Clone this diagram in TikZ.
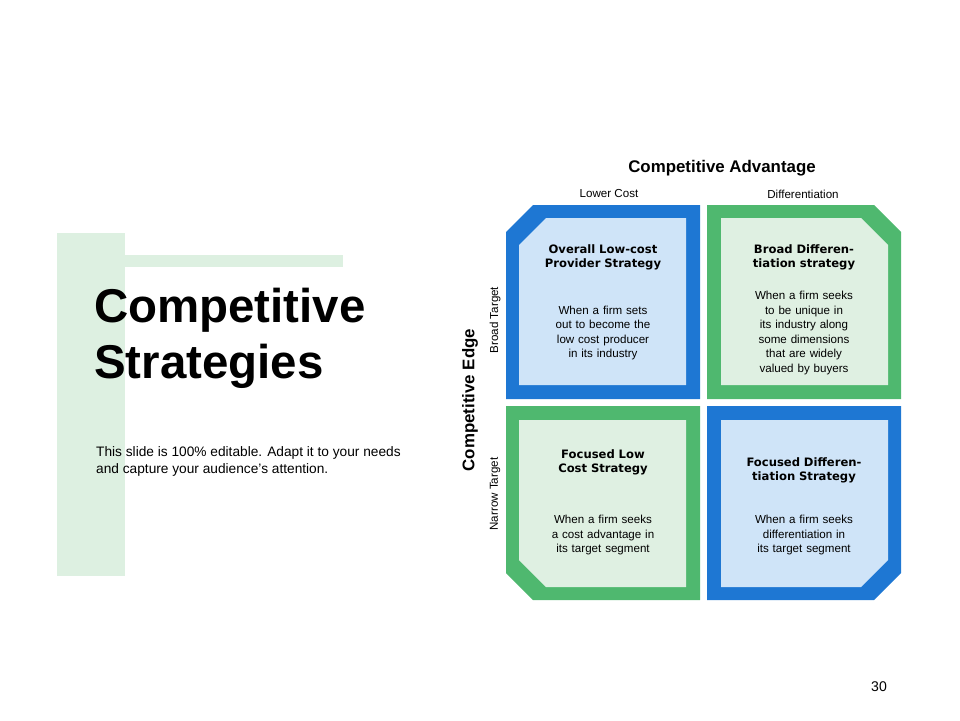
\documentclass[tikz,border=0pt]{standalone}
\usepackage{fontspec}
\setmainfont{Liberation Sans}
\newfontfamily\boldfont{DejaVu Sans}
\usetikzlibrary{positioning}
\definecolor{blueedge}{HTML}{1E77D3}
\definecolor{greenedge}{HTML}{4FB86F}
\definecolor{bluefill}{HTML}{CFE4F8}
\definecolor{greenfill}{HTML}{DFF0E2}
\definecolor{deco}{HTML}{DDF0E1}
\tikzstyle{heading}=[font=\boldfont\bfseries\fontsize{6.6}{8}\selectfont,align=center,text width=2.4cm]
\tikzstyle{body}=[font=\fontsize{6.6}{8.2}\selectfont,align=center,text width=2.3cm]
\tikzstyle{axis}=[font=\fontsize{6.6}{8}\selectfont]
\begin{document}
\begin{tikzpicture}[x=0.02cm,y=-0.02cm]
\useasboundingbox (0,0) rectangle (960,720);

% left decoration
\fill[deco] (57,233) rectangle (125,576);
\fill[deco] (125,255) rectangle (343,267);
\node[anchor=north west,align=left,font=\bfseries\fontsize{27}{32}\selectfont] (title) at (88,282) {Competitive\\Strategies};
\node[anchor=north west,align=left,font=\fontsize{7.8}{10}\selectfont] (sub) at (90,440) {This slide is 100\% editable. Adapt it to your needs\\and capture your audience's attention.};

% quadrants
\fill[blueedge] (506,232) -- (533,205) -- (700,205) -- (700,399) -- (506,399) -- cycle;
\fill[bluefill] (519,245) -- (546,218) -- (686,218) -- (686,385) -- (519,385) -- cycle;
\fill[greenedge] (707,205) -- (874,205) -- (901,232) -- (901,399) -- (707,399) -- cycle;
\fill[greenfill] (721,218) -- (861,218) -- (888,245) -- (888,385) -- (721,385) -- cycle;
\fill[greenedge] (506,406) -- (700,406) -- (700,600) -- (533,600) -- (506,573) -- cycle;
\fill[greenfill] (519,420) -- (686,420) -- (686,587) -- (546,587) -- (519,560) -- cycle;
\fill[blueedge] (707,406) -- (901,406) -- (901,573) -- (874,600) -- (707,600) -- cycle;
\fill[bluefill] (721,420) -- (888,420) -- (888,560) -- (861,587) -- (721,587) -- cycle;

\node[heading] (h1) at (603,257) {Overall Low-cost Provider Strategy};
\node[body] (b1) at (603,333) {When a firm sets out to become the low cost producer in its industry};
\node[heading] (h2) at (804,257) {Broad Differentiation strategy};
\node[body] (b2) at (804,333) {When a firm seeks to be unique in its industry along some dimensions that are widely valued by buyers};
\node[heading] (h3) at (603,462) {Focused Low Cost Strategy};
\node[body] (b3) at (603,535) {When a firm seeks a cost advantage in its target segment};
\node[heading] (h4) at (804,470) {Focused Differentiation Strategy};
\node[body] (b4) at (804,535) {When a firm seeks differentiation in its target segment};

% axes
\node[font=\bfseries\fontsize{9.6}{11}\selectfont] (advantage) at (722,168) {Competitive Advantage};
\node[axis] (lower) at (609,194) {Lower Cost};
\node[axis] (diff) at (803,194) {Differentiation};
\node[font=\bfseries\fontsize{9.6}{11}\selectfont,rotate=90] (edge) at (470,400) {Competitive Edge};
\node[axis,rotate=90] (broad) at (495,320) {Broad Target};
\node[axis,rotate=90] (narrow) at (495,494) {Narrow Target};

\node[font=\fontsize{8}{10}\selectfont] (page) at (879,687) {30};
\end{tikzpicture}
\end{document}
